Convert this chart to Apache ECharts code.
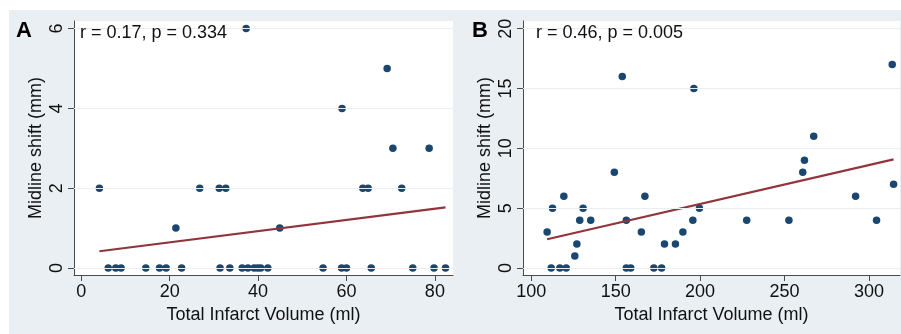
<!DOCTYPE html>
<html>
<head>
<meta charset="utf-8">
<script src="https://cdn.jsdelivr.net/npm/echarts@6/dist/echarts.min.js"></script>
<style>
  html, body { margin: 0; padding: 0; background: #fff; }
  #chart { width: 901px; height: 334px; }
</style>
</head>
<body>
<div id="chart"></div>
<script>
// panel A: total infarct volume (ml) vs midline shift (mm)
const volumeA = [4.1, 6.1, 7.8, 9.0, 14.6, 17.7, 19.2, 21.4, 22.7, 26.8, 31.2, 32.7, 31.4, 33.6, 37.3, 36.4, 37.7,
    39.1, 39.9, 40.6, 42.2, 44.9, 54.7, 59.0, 58.9, 60.0, 63.7, 64.9, 65.6, 69.2, 70.5, 72.5, 75.0, 78.7, 79.8, 82.4];
const shiftA = [2, 0, 0, 0, 0, 0, 0, 1, 0, 2, 2, 2, 0, 0, 6, 0, 0,
    0, 0, 0, 0, 1, 0, 4, 0, 0, 2, 2, 0, 5, 3, 2, 0, 3, 0, 0];
const fitA = [[4.1, 0.42], [82.4, 1.52]];
const xTicksA = [0, 20, 40, 60, 80];
const yTicksA = [0, 2, 4, 6];

// panel B
const volumeB = [109.4, 112.6, 111.8, 116.9, 120.7, 119.3, 125.8, 127.0, 128.7, 130.7, 135.2, 149.2, 153.9, 156.3,
    156.3, 158.9, 165.2, 167.3, 172.6, 177.2, 178.9, 185.4, 189.8, 195.7, 196.3, 199.6, 227.6, 252.6, 260.8,
    261.8, 267.3, 292.1, 304.5, 313.8, 314.6];
const shiftB = [3, 5, 0, 0, 0, 6, 1, 2, 4, 5, 4, 8, 16, 4,
    0, 0, 3, 6, 0, 0, 2, 2, 3, 4, 15, 5, 4, 4, 8,
    9, 11, 6, 4, 17, 7];
const fitB = [[109.4, 2.4], [314.6, 9.08]];
const xTicksB = [100, 150, 200, 250, 300];
const yTicksB = [0, 5, 10, 15, 20];

const font = 'Liberation Sans, Arial, sans-serif';
const axisColor = '#4a4a4a';
const dotColor = '#1a476f';
const lineColor = '#90353b';

const zip = (xs, ys) => xs.map((x, i) => [x, ys[i]]);

function xAxis(grid, min, max, ticks) {
    return {
        type: 'value', gridIndex: grid, min: min, max: max,
        name: 'Total Infarct Volume (ml)', nameLocation: 'middle', nameGap: 30,
        nameTextStyle: { fontFamily: font, fontSize: 18, color: '#111' },
        axisLine: { show: true, onZero: false, lineStyle: { color: axisColor, width: 1 } },
        axisTick: { show: true, length: 6, customValues: ticks, lineStyle: { color: axisColor } },
        axisLabel: { customValues: ticks, margin: 8, fontFamily: font, fontSize: 18, color: '#111' },
        splitLine: { show: false }
    };
}

function yAxis(grid, min, max, ticks) {
    return {
        type: 'value', gridIndex: grid, min: min, max: max,
        name: 'Midline shift (mm)', nameLocation: 'middle', nameGap: 29, nameRotate: 90,
        nameTextStyle: { fontFamily: font, fontSize: 18, color: '#111' },
        axisLine: { show: true, onZero: false, lineStyle: { color: axisColor, width: 1 } },
        axisTick: { show: true, length: 6, customValues: ticks, lineStyle: { color: axisColor } },
        axisLabel: { customValues: ticks, rotate: 90, margin: 8, fontFamily: font, fontSize: 18, color: '#111' },
        splitLine: { show: false }
    };
}

function gridLines(ticks) {
    return {
        silent: true, symbol: 'none', label: { show: false },
        lineStyle: { color: '#e8eef2', width: 1, type: 'solid' },
        data: ticks.map(t => ({ yAxis: t }))
    };
}

const chart = echarts.init(document.getElementById('chart'));
chart.setOption({
    animation: false,
    graphic: [
        { type: 'rect', shape: { x: 9, y: 10, width: 892, height: 324 }, style: { fill: '#e9eff3' }, z: -10 },
        { type: 'text', left: 16, top: 20, z: 100, style: { text: 'A', font: 'bold 22px ' + font, fill: '#000' } },
        { type: 'text', left: 472, top: 20, z: 100, style: { text: 'B', font: 'bold 22px ' + font, fill: '#000' } },
        { type: 'text', left: 80, top: 24, z: 100, style: { text: 'r = 0.17, p = 0.334', font: '18px ' + font, fill: '#111' } },
        { type: 'text', left: 536, top: 24, z: 100, style: { text: 'r = 0.46, p = 0.005', font: '18px ' + font, fill: '#111' } }
    ],
    grid: [
        { left: 74, top: 21, right: 448, bottom: 59, show: true, backgroundColor: '#fff', borderWidth: 0 },
        { left: 523, top: 21, right: 1, bottom: 59, show: true, backgroundColor: '#fff', borderWidth: 0 }
    ],
    xAxis: [xAxis(0, -1.65, 84.1, xTicksA), xAxis(1, 95.1, 318.4, xTicksB)],
    yAxis: [yAxis(0, -0.176, 6.19, yTicksA), yAxis(1, -0.585, 20.64, yTicksB)],
    series: [
        {
            type: 'scatter', xAxisIndex: 0, yAxisIndex: 0, symbolSize: 7.5,
            itemStyle: { color: dotColor, opacity: 1 }, data: zip(volumeA, shiftA),
            markLine: gridLines(yTicksA), z: 3
        },
        {
            type: 'line', xAxisIndex: 0, yAxisIndex: 0, showSymbol: false,
            lineStyle: { color: lineColor, width: 2.2 }, data: fitA, z: 4
        },
        {
            type: 'scatter', xAxisIndex: 1, yAxisIndex: 1, symbolSize: 7.5,
            itemStyle: { color: dotColor, opacity: 1 }, data: zip(volumeB, shiftB),
            markLine: gridLines(yTicksB), z: 3
        },
        {
            type: 'line', xAxisIndex: 1, yAxisIndex: 1, showSymbol: false,
            lineStyle: { color: lineColor, width: 2.2 }, data: fitB, z: 4
        }
    ]
});
</script>
</body>
</html>
